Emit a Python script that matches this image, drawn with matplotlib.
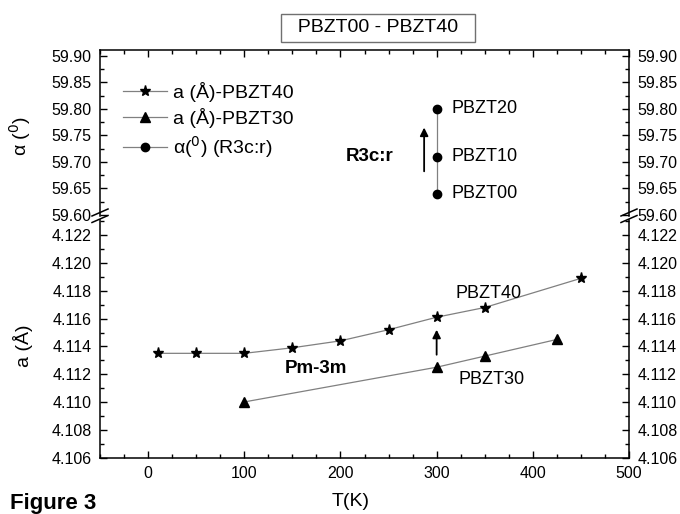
import matplotlib
matplotlib.use("Agg")
import matplotlib.pyplot as plt
from matplotlib.lines import Line2D
from matplotlib.ticker import MultipleLocator

plt.rcParams['font.family'] = ['Liberation Sans', 'DejaVu Sans']

# PBZT40 lattice parameter (cubic Pm-3m)
T40 = [10, 50, 100, 150, 200, 250, 300, 350, 450]
a40 = [4.1135, 4.1135, 4.1135, 4.1139, 4.1144, 4.1152, 4.1161, 4.1168, 4.1189]

# PBZT30 lattice parameter
T30 = [100, 300, 350, 425]
a30 = [4.1100, 4.1125, 4.1133, 4.1145]

# rhombohedral angle (R3c:r) at 300 K
T_alpha = [300, 300, 300]
alpha = [59.64, 59.71, 59.80]
alpha_names = ['PBZT00', 'PBZT10', 'PBZT20']

W, H = 680, 514
fig = plt.figure(figsize=(W / 100, H / 100), dpi=100)


def fx(px):
    return px / W


def fy(py):
    return 1 - py / H


left, right = 100, 629
ax_top = fig.add_axes([fx(left), fy(216), fx(right - left), (216 - 50) / H])
ax_bot = fig.add_axes([fx(left), fy(457.5), fx(right - left), (457.5 - 220) / H])

grey = '#808080'
ms = 7

l40, = ax_bot.plot(T40, a40, color=grey, lw=0.9, marker='*', ms=ms + 1,
                   mfc='black', mec='black', label='a (Å)-PBZT40')
l30, = ax_bot.plot(T30, a30, color=grey, lw=0.9, marker='^', ms=ms,
                   mfc='black', mec='black', label='a (Å)-PBZT30')
la, = ax_top.plot(T_alpha, alpha, color=grey, lw=0.9, marker='o', ms=ms - 1,
                  mfc='black', mec='black', label=r'α($^0$) (R3c:r)')

for ax in (ax_top, ax_bot):
    ax.set_xlim(-50, 500)
    ax.xaxis.set_major_locator(MultipleLocator(100))
    ax.xaxis.set_minor_locator(MultipleLocator(25))
    ax.tick_params(which='both', direction='in', right=True, labelright=True,
                   labelsize=11.5, width=1)
    ax.tick_params(axis='y', which='both', pad=6)
    ax.tick_params(which='major', length=5)
    ax.tick_params(which='minor', length=3)
    for s in ax.spines.values():
        s.set_linewidth(1.1)

ax_top.set_ylim(59.598, 59.911)
ax_top.yaxis.set_major_locator(MultipleLocator(0.05))
ax_top.yaxis.set_minor_locator(MultipleLocator(0.025))
ax_top.yaxis.set_major_formatter(plt.FormatStrFormatter('%.2f'))
ax_top.spines['bottom'].set_visible(False)
ax_top.tick_params(axis='x', which='both', bottom=False, top=True, labelbottom=False)

ax_bot.set_ylim(4.106, 4.1231)
ax_bot.yaxis.set_major_locator(MultipleLocator(0.002))
ax_bot.yaxis.set_minor_locator(MultipleLocator(0.001))
ax_bot.yaxis.set_major_formatter(plt.FormatStrFormatter('%.3f'))
ax_bot.spines['top'].set_visible(False)
ax_bot.tick_params(axis='x', which='both', top=False, pad=6)

ax_top.set_ylabel(r'α ($^0$)', fontsize=14)
ax_bot.set_ylabel('a (Å)', fontsize=14)
ax_bot.set_xlabel('T(K)', fontsize=14)
ax_top.yaxis.set_label_coords(-0.127, (216 - 136) / 166)
ax_bot.yaxis.set_label_coords(-0.127, (457.5 - 346) / 237.5)
ax_bot.xaxis.set_label_coords((351 - 100) / 529, -(510 - 457.5) / 237.5)
ax_bot.xaxis.label.set_va('bottom')

# labels next to points
for t, v, name in zip(T_alpha, alpha, alpha_names):
    ax_top.text(t + 15, v, name, fontsize=13, va='center', ha='left')
ax_top.text(230, 59.71, 'R3c:r', fontsize=13.5, fontweight='bold', va='center', ha='center')
ax_top.annotate('', xy=(287, 59.77), xytext=(287, 59.677),
                arrowprops=dict(arrowstyle='-|>', color='black', lw=1.3, mutation_scale=12))

ax_bot.text(354, 4.1178, 'PBZT40', fontsize=13, va='center', ha='center')
ax_bot.text(357, 4.1116, 'PBZT30', fontsize=13, va='center', ha='center')
ax_bot.text(174, 4.1124, 'Pm-3m', fontsize=13.5, fontweight='bold', va='center', ha='center')
ax_bot.annotate('', xy=(300, 4.1154), xytext=(300, 4.1132),
                arrowprops=dict(arrowstyle='-|>', color='black', lw=1.3, mutation_scale=12))

ax_top.legend(handles=[l40, l30, la], loc='upper left', bbox_to_anchor=(0.043, 0.807),
              frameon=False, fontsize=14, borderpad=0, borderaxespad=0,
              handlelength=2.3, handletextpad=0.3, labelspacing=0.3)

# axis break marks
for xb in (left, right):
    for yb in (212.5, 219):
        fig.add_artist(Line2D([fx(xb - 8), fx(xb + 8)], [fy(yb + 3.5), fy(yb - 3.5)],
                              color='black', lw=1.1))

# title box
fig.text(fx(378), fy(28), '  PBZT00 - PBZT40  ', fontsize=14, ha='center', va='center',
         bbox=dict(boxstyle='square,pad=0.3', fc='white', ec='#707070', lw=1))

fig.text(fx(10), fy(513.5), 'Figure 3', fontsize=16, fontweight='bold', ha='left', va='bottom')

fig.savefig('out.png', dpi=100)
